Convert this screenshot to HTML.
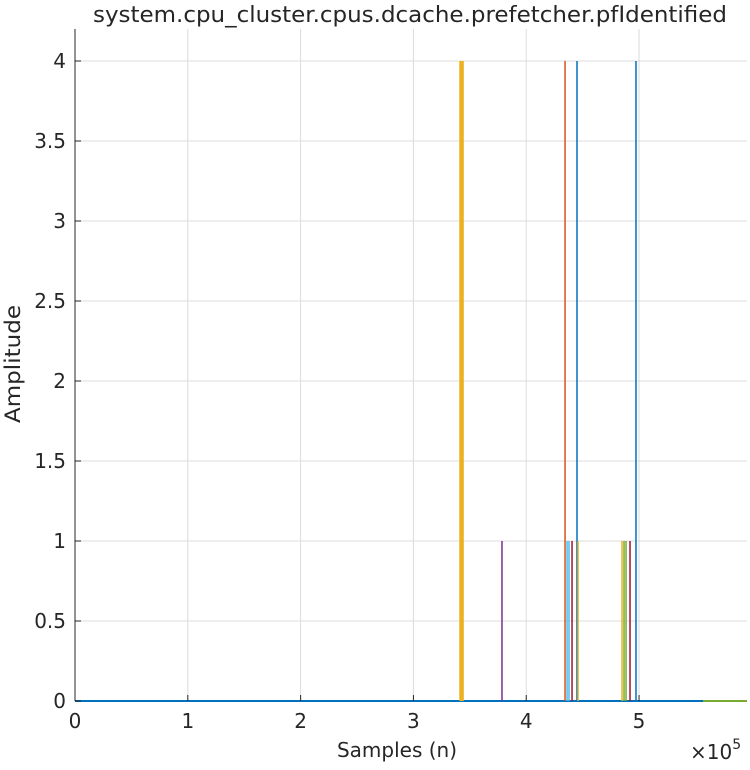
<!DOCTYPE html>
<html><head><meta charset="utf-8"><style>
body{margin:0;background:#fff;}
svg text{font-family:"DejaVu Sans","Liberation Sans",sans-serif;fill:#262626;}
</style></head><body>
<svg id="chart" width="750" height="765" xmlns="http://www.w3.org/2000/svg">
<g id="grid"></g>
<g id="marks"></g>
<g id="axes"></g>
<text x="410" y="22" font-size="22" text-anchor="middle" textLength="634" lengthAdjust="spacingAndGlyphs">system.cpu_cluster.cpus.dcache.prefetcher.pfIdentified</text>
<text x="397" y="757" font-size="20" text-anchor="middle">Samples (n)</text>
<text transform="translate(20,364) rotate(-90)" font-size="21" text-anchor="middle" textLength="118" lengthAdjust="spacingAndGlyphs">Amplitude</text>
<text x="690" y="759" font-size="20">×10<tspan dy="-10" font-size="14">5</tspan></text>
</svg>
<script>
const xTicks=[0,1e5,2e5,3e5,4e5,5e5];
const xTickLabels=["0","1","2","3","4","5"];
const yTicks=[0,0.5,1,1.5,2,2.5,3,3.5,4];
const yTickLabels=["0","0.5","1","1.5","2","2.5","3","3.5","4"];
const spikeX=[341300,342200,343100,344000,378500,434400,436200,437900,440600,445000,445900,484900,486700,488500,492000,497300];
const spikeY=[4,4,4,4,1,4,1,1,1,4,1,1,1,1,1,4];
const spikeColor=["#EDB120","#EDB120","#EDB120","#EDB120","#7E2F8E","#D95319","#4DBEEE","#4DBEEE","#A2142F","#0072BD","#EDB120","#EDB120","#77AC30","#77AC30","#A2142F","#0072BD"];
const tailStart=556700;
const xMax=595700,yMax=4.2;
const L=75,R=747,T=29,B=701;
const sx=v=>L+v/xMax*(R-L), sy=v=>B-v/yMax*(B-T);
const NS="http://www.w3.org/2000/svg";
function mk(tag,attrs,parent){const e=document.createElementNS(NS,tag);for(const k in attrs)e.setAttribute(k,attrs[k]);parent.appendChild(e);return e;}
const grid=document.getElementById('grid'),marks=document.getElementById('marks'),axes=document.getElementById('axes');
xTicks.forEach((t,i)=>{
 const x=sx(t);
 if(i>0){const g=mk('line',{x1:x,x2:x,y1:T,y2:B,stroke:'#dcdcdc','stroke-width':1},grid);
 
 }
 const tk=mk('line',{x1:x,x2:x,y1:B,y2:B-6,stroke:'#262626','stroke-width':1},axes);
 
 
 const tl=mk('text',{x:x,y:B+27,'font-size':20,'text-anchor':'middle'},axes);tl.textContent=xTickLabels[i];
 
 
});
yTicks.forEach((t,i)=>{
 const y=sy(t);
 if(i>0){const g=mk('line',{x1:L,x2:R,y1:y,y2:y,stroke:'#dcdcdc','stroke-width':1},grid);
 
 }
 const tk=mk('line',{x1:L,x2:L+6,y1:y,y2:y,stroke:'#262626','stroke-width':1},axes);
 
 
 const tl=mk('text',{x:L-9,y:y+7,'font-size':20,'text-anchor':'end'},axes);tl.textContent=yTickLabels[i];
 
 
});
const ya=mk('line',{x1:L,x2:L,y1:T,y2:B,stroke:'#262626','stroke-width':1},axes);


const base=mk('line',{x1:L,x2:sx(tailStart),y1:B,y2:B,stroke:'#0072BD','stroke-width':2},marks);


const tail=mk('line',{x1:sx(tailStart),x2:R,y1:B,y2:B,stroke:'#77AC30','stroke-width':2},marks);


spikeX.forEach((v,i)=>{
 const s=mk('line',{x1:sx(v),x2:sx(v),y1:B,y2:sy(spikeY[i]),stroke:spikeColor[i],'stroke-width':1.5},marks);
 
 
});
</script>
</body></html>
